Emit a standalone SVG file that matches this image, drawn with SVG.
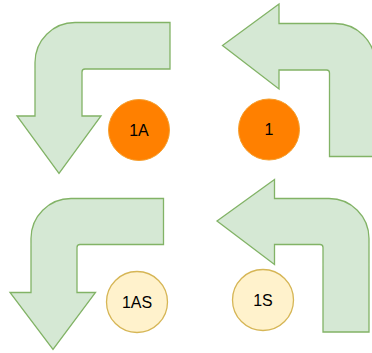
<svg xmlns="http://www.w3.org/2000/svg" width="372" height="353" viewBox="0 0 372 353">
<style>
.arrow{fill:#d5e8d4;stroke:#82b366;stroke-width:1.3;stroke-linejoin:miter}
.orange{fill:#ff8000;stroke:#f5a030;stroke-width:1}
.yellow{fill:#fff2cc;stroke:#d6b656;stroke-width:1.3}
.lbl{font-family:"Liberation Sans",Arial,sans-serif;font-size:16px;fill:#000;text-anchor:middle;dominant-baseline:central}
</style>
<rect width="372" height="353" fill="#ffffff"/>
<g id="connectors">
<path id="arrow1A" class="arrow" d="M170,22.5 H75 A40,40 0 0 0 35,62.5 V116 H17 L59,173.5 L101,116 H82 V72 Q82,69 85,69 H170 Z"/>
<path id="arrow1" class="arrow" d="M222.5,45.5 L279,4 V23.5 H335 A40,40 0 0 1 375,63.5 V156.5 H329.5 V73 Q329.5,70 326.5,70 H279 V89 Z"/>
<path id="arrow1AS" class="arrow" d="M163.5,198.5 H71 A40,40 0 0 0 31,238.5 V292.5 H10 L53,349.5 L95.5,292.5 H77 V247.5 Q77,244.5 80,244.5 H163.5 Z"/>
<path id="arrow1S" class="arrow" d="M217,221 L274.5,179.5 V198.5 H329 A40,40 0 0 1 369,238.5 V332 H323 V247.5 Q323,244.5 320,244.5 H274.5 V264.5 Z"/>
</g>
<g id="node-1A">
<circle class="orange" cx="139" cy="130" r="30.5"/>
<text class="lbl" x="139" y="130">1A</text>
</g>
<g id="node-1">
<circle class="orange" cx="269" cy="129.5" r="30.5"/>
<text class="lbl" x="269" y="129.5">1</text>
</g>
<g id="node-1AS">
<circle class="yellow" cx="137" cy="302" r="30.5"/>
<text class="lbl" x="137" y="302">1AS</text>
</g>
<g id="node-1S">
<circle class="yellow" cx="263" cy="300" r="30.5"/>
<text class="lbl" x="263" y="300">1S</text>
</g>
</svg>
